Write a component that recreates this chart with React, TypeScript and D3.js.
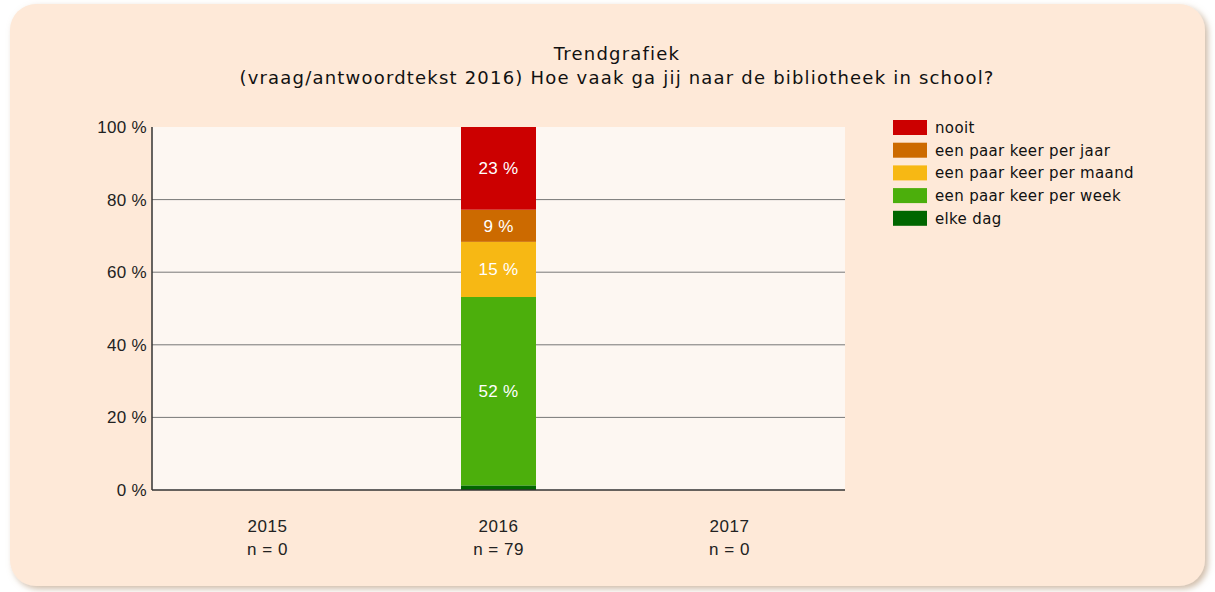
import React from "react";
import * as d3 from "d3";

const categories = ["2015", "2016", "2017"];
const nLabels = ["n = 0", "n = 79", "n = 0"];
const seriesNames = ["elke dag", "een paar keer per week", "een paar keer per maand", "een paar keer per jaar", "nooit"];
const seriesColors = ["#006600", "#4caf0c", "#f7b814", "#cc6a00", "#cc0000"];
// percentages per category (2015, 2016, 2017)
const elkeDag = [0, 1.27, 0];
const perWeek = [0, 51.9, 0];
const perMaand = [0, 15.19, 0];
const perJaar = [0, 8.86, 0];
const nooit = [0, 22.78, 0];
const yTicks = [0, 20, 40, 60, 80, 100];

const W = 1215, H = 592;
const plot = { left: 152, right: 845, top: 127, bottom: 490 };

export default function App() {
  const x = d3.scaleBand().domain(categories).range([plot.left, plot.right]).paddingInner(0.675).paddingOuter(0.3375);
  const y = d3.scaleLinear().domain([0, 100]).range([plot.bottom, plot.top]);
  const table = categories.map((c, i) => ({
    cat: c,
    s0: elkeDag[i], s1: perWeek[i], s2: perMaand[i], s3: perJaar[i], s4: nooit[i],
  }));
  const stack = d3.stack<any>().keys(["s0", "s1", "s2", "s3", "s4"]);
  const layers = stack(table);
  const legendNames = [...seriesNames].reverse();
  const legendColors = [...seriesColors].reverse();
  const bw = 75;
  return (
    <svg width={W} height={H} style={{ position: "absolute", left: 0, top: 0 }}>
      <defs>
        <filter id="sh" x="-5%" y="-5%" width="110%" height="110%">
          <feDropShadow dx="3" dy="3" stdDeviation="3" floodColor="#b09070" floodOpacity="0.6" />
        </filter>
      </defs>
      <rect x={10} y={4} width={1195} height={582} rx={26} ry={26} fill="#fee9d8" filter="url(#sh)" />
      <text x={617} y={60} textAnchor="middle" fontFamily="DejaVu Sans" fontSize={18} letterSpacing={1.2} fill="#111">Trendgrafiek</text>
      <text x={617} y={84} textAnchor="middle" fontFamily="DejaVu Sans" fontSize={18} letterSpacing={1.2} fill="#111">(vraag/antwoordtekst 2016) Hoe vaak ga jij naar de bibliotheek in school?</text>
      <rect x={plot.left} y={plot.top} width={plot.right - plot.left} height={plot.bottom - plot.top} fill="#fdf7f2" />
      {yTicks.filter(t => t > 0 && t < 100).map(t => (
        <line key={t} x1={plot.left} x2={plot.right} y1={y(t)} y2={y(t)} stroke="#777" strokeWidth={1} />
      ))}
      {layers.map((layer, li) => layer.map((d, ci) => {
        const v = d[1] - d[0];
        if (v <= 0) return null;
        const cx = (x(categories[ci]) as number) + x.bandwidth() / 2;
        return (
          <g key={li + "-" + ci}>
            <rect x={cx - bw / 2} y={y(d[1])} width={bw} height={y(d[0]) - y(d[1])} fill={seriesColors[li]} />
            {v >= 5 && (
              <text x={cx} y={(y(d[0]) + y(d[1])) / 2 + 6} textAnchor="middle" fontFamily="Liberation Sans" fontSize={17} letterSpacing={0.3} fill="#fff">{Math.round(v)} %</text>
            )}
          </g>
        );
      }))}
      <line x1={plot.left} x2={plot.left} y1={plot.top} y2={plot.bottom} stroke="#333" strokeWidth={1.5} />
      <line x1={plot.left} x2={plot.right} y1={plot.bottom} y2={plot.bottom} stroke="#333" strokeWidth={1.5} />
      {yTicks.map(t => (
        <text key={t} x={plot.left - 5} y={y(t) + 6} textAnchor="end" fontFamily="Liberation Sans" fontSize={17} letterSpacing={0.3} fill="#222">{t} %</text>
      ))}
      {categories.map((c, i) => {
        const cx = (x(c) as number) + x.bandwidth() / 2;
        return (
          <g key={c}>
            <text x={cx} y={532} textAnchor="middle" fontFamily="Liberation Sans" fontSize={17} letterSpacing={0.5} fill="#222">{c}</text>
            <text x={cx} y={555} textAnchor="middle" fontFamily="Liberation Sans" fontSize={17} letterSpacing={0.5} fill="#222">{nLabels[i]}</text>
          </g>
        );
      })}
      {legendNames.map((n, i) => (
        <g key={n}>
          <rect x={893} y={120 + i * 22.7} width={34} height={15} fill={legendColors[i]} />
          <text x={935} y={133 + i * 22.7} fontFamily="DejaVu Sans" fontSize={15} letterSpacing={0.35} fill="#111">{n}</text>
        </g>
      ))}
    </svg>
  );
}
